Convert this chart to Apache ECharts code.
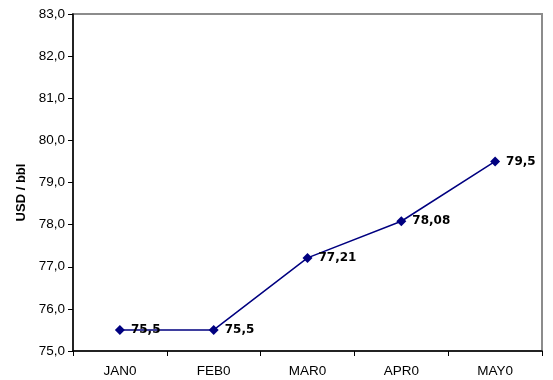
<!DOCTYPE html>
<html>
<head>
<meta charset="utf-8">
<script src="https://cdn.jsdelivr.net/npm/echarts@6/dist/echarts.min.js"></script>
<style>
  html, body { margin: 0; padding: 0; background: #fff; }
  #chart { width: 553px; height: 380px; }
</style>
</head>
<body>
<div id="chart"></div>
<script>
// months on the x axis
const months = ['JAN0', 'FEB0', 'MAR0', 'APR0', 'MAY0'];
// price in USD per barrel
const prices = [75.5, 75.5, 77.21, 78.08, 79.5];

const yMin = 75;
const yMax = 83;
const yStep = 1;

const chart = echarts.init(document.getElementById('chart'));

const fmtComma = v => String(v).replace('.', ',');

chart.setOption({
    animation: false,
    textStyle: { fontFamily: 'Liberation Sans, Arial, sans-serif' },
    grid: {
        left: 73,
        right: 11,
        top: 14,
        bottom: 29,
        show: true,
        borderColor: '#8c8c8c',
        borderWidth: 2
    },
    xAxis: {
        type: 'category',
        data: months,
        boundaryGap: true,
        axisLine: { lineStyle: { color: '#000', width: 1.5 } },
        axisTick: { show: true, length: 5, interval: 0, lineStyle: { color: '#000' } },
        axisLabel: { color: '#000', fontSize: 13.5, margin: 13, interval: 0 },
        splitLine: { show: false }
    },
    yAxis: {
        type: 'value',
        min: yMin,
        max: yMax,
        interval: yStep,
        name: 'USD / bbl',
        nameLocation: 'middle',
        nameGap: 38,
        nameTextStyle: { color: '#000', fontSize: 13, fontWeight: 'bold', padding: [0, 20, 0, 0] },
        axisLine: { show: true, lineStyle: { color: '#000', width: 1.5 } },
        axisTick: { show: true, length: 5, lineStyle: { color: '#000' } },
        axisLabel: {
            color: '#000',
            fontSize: 13.5,
            margin: 8,
            formatter: v => v.toFixed(1).replace('.', ',')
        },
        splitLine: { show: false }
    },
    series: [{
        type: 'line',
        data: prices,
        symbol: 'diamond',
        symbolSize: 10,
        itemStyle: { color: '#000080' },
        lineStyle: { color: '#000080', width: 1.5 },
        label: {
            show: true,
            position: 'right',
            distance: 6,
            color: '#000',
            fontFamily: 'DejaVu Sans',
            fontWeight: 'bold',
            fontSize: 12,
            formatter: p => fmtComma(p.value)
        }
    }]
});
</script>
</body>
</html>
